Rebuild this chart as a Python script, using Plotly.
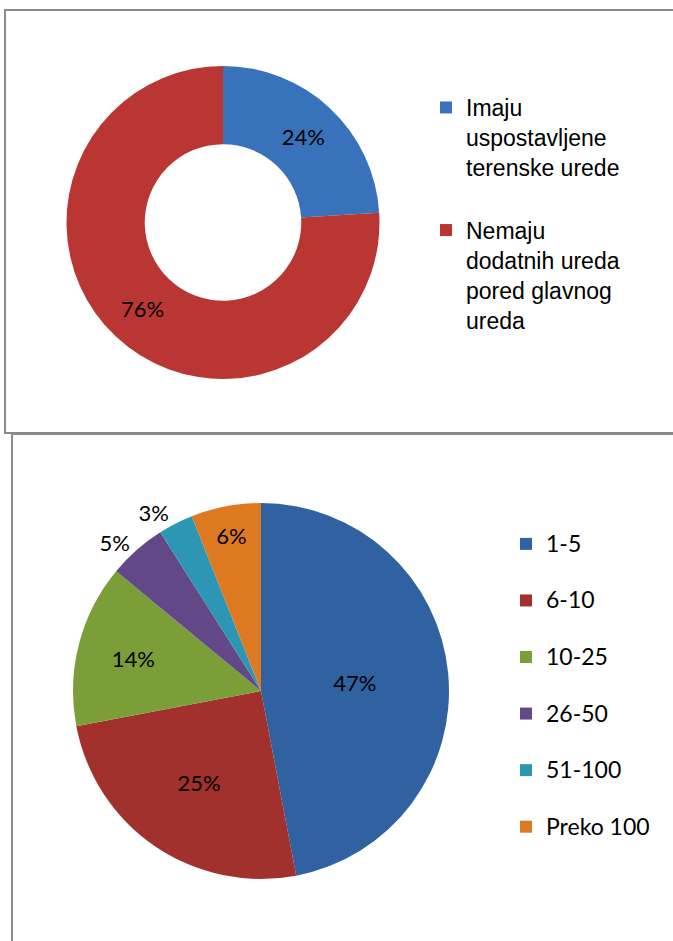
import plotly.graph_objects as go

# ---- data ----
office_labels = ["Imaju<br>uspostavljene<br>terenske urede",
                 "Nemaju<br>dodatnih ureda<br>pored glavnog<br>ureda"]
office_values = [24, 76]

size_labels = ["1-5", "6-10", "10-25", "26-50", "51-100", "Preko 100"]
size_values = [47, 25, 14, 5, 3, 6]

# ---- styles ----
office_colors = ["#3872BA", "#B93633"]
size_colors = ["#3061A0", "#A2302D", "#7C9E39", "#634887", "#2C96B4", "#DD7921"]
size_textpos = ["inside", "inside", "inside", "outside", "outside", "inside"]

W, H = 673, 941


def px_dom(x0, x1, y0, y1):
    return dict(x=[x0 / W, x1 / W], y=[1 - y1 / H, 1 - y0 / H])


fig = go.Figure()

fig.add_trace(go.Pie(
    labels=[l + "<br> " for l in office_labels],
    values=office_values,
    hole=0.5,
    sort=False,
    direction="clockwise",
    rotation=0,
    marker=dict(colors=office_colors, line=dict(width=0)),
    textinfo="percent",
    textposition="inside",
    insidetextorientation="horizontal",
    textfont=dict(family="Lato", size=22, color="black"),
    domain=px_dom(66, 380, 66, 379),
    legend="legend",
    hoverinfo="skip",
))

fig.add_trace(go.Pie(
    labels=["<span style='font-size:23px'>%s</span><br> " % l for l in size_labels],
    values=size_values,
    sort=False,
    direction="clockwise",
    rotation=0,
    marker=dict(colors=size_colors, line=dict(width=0)),
    textinfo="percent",
    textposition=size_textpos,
    insidetextorientation="horizontal",
    textfont=dict(family="Lato", size=22, color="black"),
    outsidetextfont=dict(family="Lato", size=22, color="black"),
    domain=px_dom(73, 449, 503, 879),
    legend="legend2",
    hoverinfo="skip",
))

line_style = dict(color="#8a8a8a", width=2)
fig.update_layout(
    width=W, height=H,
    margin=dict(l=0, r=0, t=0, b=0),
    paper_bgcolor="white",
    plot_bgcolor="white",
    legend=dict(x=426 / W, y=1 - 86 / H, xanchor="left", yanchor="top",
                valign="top", bgcolor="rgba(0,0,0,0)", tracegroupgap=0,
                font=dict(family="Liberation Sans, Arial", size=23, color="black")),
    legend2=dict(x=506 / W, y=1 - 524 / H, xanchor="left", yanchor="top",
                 valign="top", bgcolor="rgba(0,0,0,0)", tracegroupgap=0,
                 font=dict(family="Lato", size=20.6, color="black")),
    shapes=[
        dict(type="rect", xref="paper", yref="paper",
             x0=5 / W, x1=1.05, y0=1 - 433 / H, y1=1 - 10 / H, line=line_style),
        dict(type="line", xref="paper", yref="paper",
             x0=12 / W, x1=12 / W, y0=1 - 434 / H, y1=-0.05, line=line_style),
        dict(type="line", xref="paper", yref="paper",
             x0=12 / W, x1=1.05, y0=1 - 434 / H, y1=1 - 434 / H, line=line_style),
    ],
)

fig.write_html("out.html", config={"displayModeBar": False},
               post_script="document.body.style.margin='0';")
